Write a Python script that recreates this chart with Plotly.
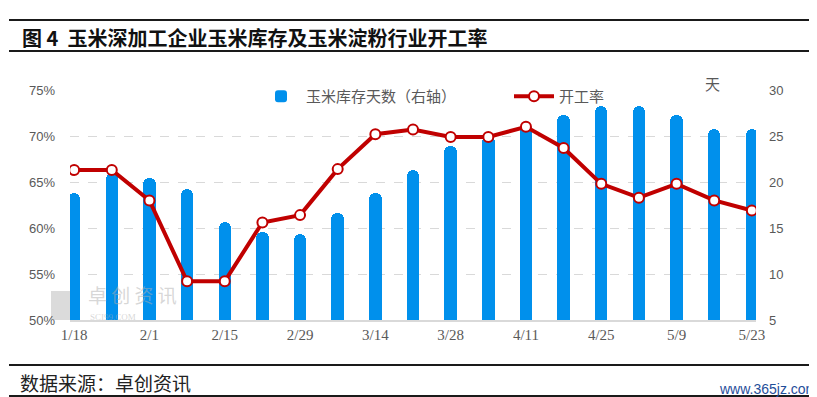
import plotly.graph_objects as go

dates = ['1/18', '1/25', '2/1', '2/8', '2/15', '2/22', '2/29', '3/7', '3/14', '3/21',
         '3/28', '4/4', '4/11', '4/18', '4/25', '5/2', '5/9', '5/16', '5/23']
rate = [66.3, 66.3, 63.0, 54.2, 54.2, 60.6, 61.4, 66.4, 70.2, 70.7,
        69.9, 69.9, 71.0, 68.7, 64.8, 63.3, 64.8, 63.0, 61.9]
stock_days = [18.8, 21.0, 20.4, 19.2, 15.6, 14.6, 14.3, 16.6, 18.8, 21.3,
              23.9, 25.0, 26.4, 27.3, 28.3, 28.3, 27.3, 25.8, 25.8]
tick_labels = dates[::2]

W, H = 817, 397
L, R, T, B = 62, 748, 82, 312


def px(x):
    return (x - L) / (R - L)


def py(y):
    return (B - y) / (B - T)


GRAY = '#595959'
WM = 'rgba(175,175,175,0.5)'
fig = go.Figure()
fig.add_trace(go.Bar(
    x=dates, y=stock_days, name='玉米库存天数（右轴）', yaxis='y',
    marker=dict(color='#0090EC', cornerradius=6, line=dict(width=0)),
    width=0.33,
))
fig.add_trace(go.Scatter(
    x=dates, y=rate, name='开工率', yaxis='y2', mode='lines+markers',
    line=dict(color='#C00000', width=4),
    marker=dict(size=10, color='white', line=dict(color='#C00000', width=2)),
))

fig.update_layout(
    width=W, height=H,
    margin=dict(l=L, r=W - R, t=T, b=H - B, autoexpand=False),
    plot_bgcolor='white', paper_bgcolor='white',
    bargap=0,
    font=dict(family='Liberation Sans, Noto Sans CJK SC', color=GRAY, size=13),
    xaxis=dict(type='category', range=[-0.11, 18.11], tickvals=tick_labels, ticktext=tick_labels,
               showgrid=False, showline=True, linecolor='#d9d9d9', linewidth=1.5,
               ticks='', tickfont=dict(family='Liberation Serif', size=15, color=GRAY),
               ticklabelstandoff=0),
    yaxis=dict(side='right', range=[5, 30], dtick=5, showgrid=True, gridcolor='#d9d9d9',
               griddash='dash', gridwidth=1, zeroline=False, showline=False,
               tickfont=dict(size=13, color=GRAY), ticklabelstandoff=12),
    yaxis2=dict(side='left', overlaying='y', range=[50, 75], dtick=5, ticksuffix='%',
                showgrid=False, zeroline=False, showline=False,
                tickfont=dict(size=13, color=GRAY), ticklabelstandoff=14),
    legend=dict(orientation='h', x=px(248), y=py(72), xanchor='left', yanchor='top',
                font=dict(family='Noto Sans CJK SC', size=15, color=GRAY),
                bgcolor='rgba(0,0,0,0)', itemwidth=40, traceorder='normal',
                entrywidth=198, entrywidthmode='pixels'),
    showlegend=True,
)

shapes = []
for yy, w in [(12, 2), (43, 2), (357, 2), (388, 2)]:
    shapes.append(dict(type='line', xref='paper', yref='paper', x0=px(1), x1=px(816),
                       y0=py(yy), y1=py(yy), line=dict(color='#1a1a1a', width=w)))
# faint watermark logo
shapes.append(dict(type='rect', xref='paper', yref='paper', x0=px(43), x1=px(66),
                   y0=py(312), y1=py(283), fillcolor='rgba(190,190,190,0.55)', line=dict(width=0),
                   layer='below'))
fig.update_layout(shapes=shapes)

ann = [
    dict(text='<b>图 4  玉米深加工企业玉米库存及玉米淀粉行业开工率</b>', x=px(12), y=py(29),
         xanchor='left', yanchor='middle', font=dict(family='Noto Sans CJK SC', size=20, color='#111')),
    dict(text='数据来源：卓创资讯', x=px(10), y=py(374), xanchor='left', yanchor='middle',
         font=dict(family='Noto Sans CJK SC', size=19, color='#222')),
    dict(text='www.365jz.com', x=px(811), y=py(381), xanchor='right', yanchor='middle',
         font=dict(family='Liberation Sans', size=14, color='#1F4E9A')),
    dict(text='天', x=px(704), y=py(76), xanchor='center', yanchor='middle',
         font=dict(family='Noto Sans CJK SC', size=15, color=GRAY)),
    dict(text='卓 创 资 讯', x=px(78), y=py(286), xanchor='left', yanchor='middle',
         font=dict(family='Noto Sans CJK SC', size=19, color=WM)),
    dict(text='SCI99.COM', x=px(80), y=py(309), xanchor='left', yanchor='middle',
         font=dict(family='Liberation Serif', size=9, color=WM)),
]
for a in ann:
    a.update(xref='paper', yref='paper', showarrow=False)
fig.update_layout(annotations=ann)

fig.write_html('out.html')
